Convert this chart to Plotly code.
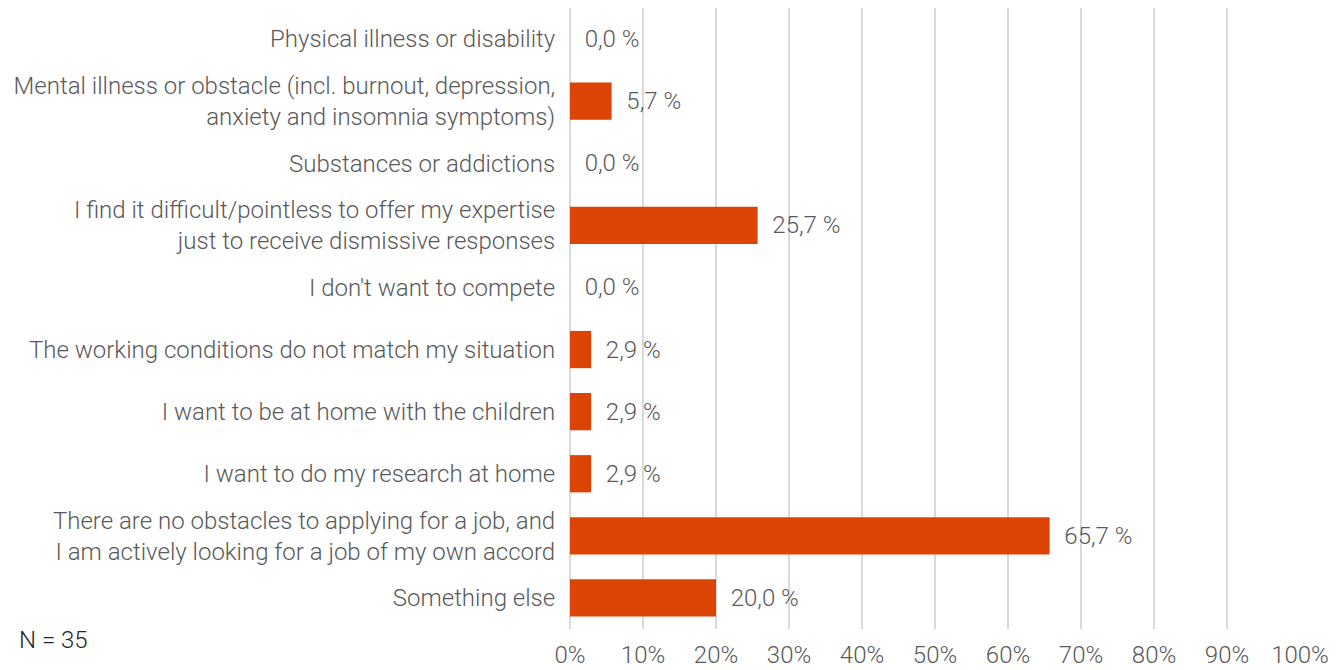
import plotly.graph_objects as go

categories = [
    "Physical illness or disability",
    "Mental illness or obstacle (incl. burnout, depression,<br>anxiety and insomnia symptoms)",
    "Substances or addictions",
    "I find it difficult/pointless to offer my expertise<br>just to receive dismissive responses",
    "I don't want to compete",
    "The working conditions do not match my situation",
    "I want to be at home with the children",
    "I want to do my research at home",
    "There are no obstacles to applying for a job, and<br>I am actively looking for a job of my own accord",
    "Something else",
]
values = [0.0, 5.7, 0.0, 25.7, 0.0, 2.9, 2.9, 2.9, 65.7, 20.0]
tick_vals = [0, 10, 20, 30, 40, 50, 60, 70, 80, 90, 100]
tick_text = ["0%", "10%", "20%", "30%", "40%", "50%", "60%", "70%", "80%", "90%", "100%"]
labels = ["  " + f"{v:.1f}".replace(".", ",") + " %" for v in values]

FONT = "Roboto"
GREY = "#595959"
SIZE = 24

fig = go.Figure(go.Bar(
    x=values, y=categories, orientation="h",
    marker=dict(color="#DC4405", line=dict(width=0)),
    width=0.6,
    text=labels, textposition="outside", cliponaxis=False,
    textfont=dict(family=FONT, size=SIZE, color=GREY, weight=300),
    hoverinfo="skip",
))

fig.update_layout(
    width=1342, height=670,
    margin=dict(l=562, r=50, t=0, b=49, autoexpand=False),
    plot_bgcolor="white", paper_bgcolor="white",
    showlegend=False,
    font=dict(family=FONT, size=SIZE, color=GREY, weight=300),
    xaxis=dict(
        range=[0, 100], tickvals=tick_vals, ticktext=tick_text, automargin=False,
        showgrid=True, gridcolor="#D9D9D9", gridwidth=1.5,
        zeroline=True, zerolinecolor="#D9D9D9", zerolinewidth=1.5,
        showline=False, ticks="outside", ticklen=4, tickcolor="rgba(0,0,0,0)",
        tickfont=dict(family=FONT, size=SIZE, color=GREY, weight=300),
    ),
    yaxis=dict(
        autorange="reversed", showgrid=False, zeroline=False, showline=False,
        automargin=False,
        ticks="outside", ticklen=9, tickcolor="rgba(0,0,0,0)",
        tickfont=dict(family=FONT, size=SIZE, color=GREY, weight=300),
    ),
    bargap=0.4,
    annotations=[dict(
        text="N = 35", xref="paper", yref="paper", x=-553/730, y=-11/621,
        xanchor="left", yanchor="middle", showarrow=False,
        font=dict(family=FONT, size=SIZE, color="#262626", weight=300),
    )],
)

fig.write_html("out.html")
